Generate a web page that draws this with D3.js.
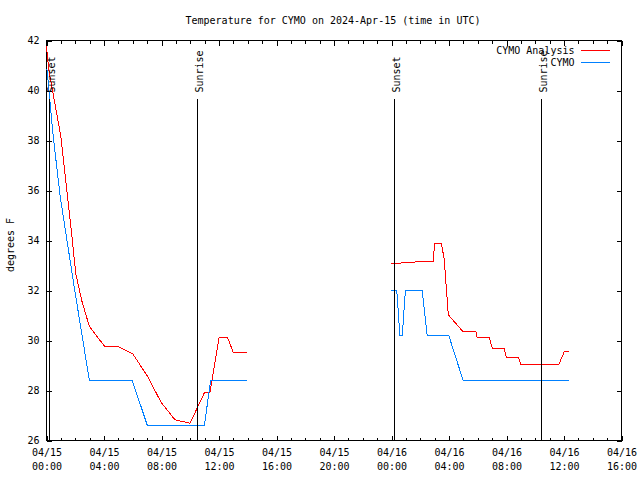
<!DOCTYPE html>
<html>
<head>
<meta charset="utf-8">
<script src="https://cdn.jsdelivr.net/npm/d3@7/dist/d3.min.js"></script>
<style>
  html, body { margin: 0; padding: 0; background: #fff; }
  svg { display: block; }
  text { font-family: "DejaVu Sans Mono", "Liberation Mono", monospace; font-size: 10px; fill: #000; }
</style>
</head>
<body>
<svg id="chart" width="640" height="480"></svg>
<script>
// ---------- DATA ----------
const titleText = "Temperature for CYMO on 2024-Apr-15 (time in UTC)";
const yLabelText = "degrees F";
const seriesNames = ["CYMO Analysis", "CYMO"];
const seriesColors = ["#ff0000", "#0080ff"];

const xDomain = ["2024-04-15T00:00Z", "2024-04-16T16:00Z"];
const yTicks = [26, 28, 30, 32, 34, 36, 38, 40, 42];

// CYMO Analysis (red), two segments
const analysisTimes1 = ["2024-04-15T00:00Z","2024-04-15T00:10Z","2024-04-15T01:00Z","2024-04-15T01:25Z","2024-04-15T01:48Z","2024-04-15T02:02Z","2024-04-15T02:27Z","2024-04-15T02:59Z","2024-04-15T04:03Z","2024-04-15T05:00Z","2024-04-15T06:00Z","2024-04-15T07:04Z","2024-04-15T07:58Z","2024-04-15T08:56Z","2024-04-15T09:59Z","2024-04-15T10:59Z","2024-04-15T11:22Z","2024-04-15T12:00Z","2024-04-15T12:36Z","2024-04-15T13:00Z","2024-04-15T13:57Z"];
const analysisTemps1 = [41.76, 40.8, 38.16, 36.0, 34.0, 32.68, 31.6, 30.56, 29.76, 29.76, 29.47, 28.53, 27.53, 26.83, 26.69, 27.91, 27.91, 30.11, 30.11, 29.51, 29.51];
const analysisTimes2 = ["2024-04-15T23:58Z","2024-04-16T00:52Z","2024-04-16T01:55Z","2024-04-16T02:55Z","2024-04-16T02:59Z","2024-04-16T03:28Z","2024-04-16T03:40Z","2024-04-16T03:57Z","2024-04-16T04:58Z","2024-04-16T05:52Z","2024-04-16T05:58Z","2024-04-16T06:48Z","2024-04-16T07:01Z","2024-04-16T07:51Z","2024-04-16T07:59Z","2024-04-16T08:51Z","2024-04-16T08:59Z","2024-04-16T11:38Z","2024-04-16T12:01Z","2024-04-16T12:20Z"];
const analysisTemps2 = [33.07, 33.11, 33.15, 33.15, 33.87, 33.87, 33.27, 31.03, 30.36, 30.36, 30.11, 30.11, 29.68, 29.68, 29.32, 29.32, 29.03, 29.03, 29.55, 29.55];

// CYMO observations (blue), two segments
const obsTimes1 = ["2024-04-15T00:02Z","2024-04-15T00:28Z","2024-04-15T00:58Z","2024-04-15T01:58Z","2024-04-15T02:59Z","2024-04-15T05:58Z","2024-04-15T07:01Z","2024-04-15T10:59Z","2024-04-15T11:25Z","2024-04-15T13:57Z"];
const obsTemps1 = [40.85, 38.16, 35.7, 32.0, 28.4, 28.4, 26.6, 26.6, 28.4, 28.4];
const obsTimes2 = ["2024-04-15T23:58Z","2024-04-16T00:22Z","2024-04-16T00:35Z","2024-04-16T00:45Z","2024-04-16T00:58Z","2024-04-16T02:08Z","2024-04-16T02:29Z","2024-04-16T03:59Z","2024-04-16T04:59Z","2024-04-16T12:20Z"];
const obsTemps2 = [32.0, 32.0, 30.2, 30.2, 32.0, 32.0, 30.2, 30.2, 28.4, 28.4];

// Sun events
const sunLabels = ["Sunset", "Sunrise", "Sunset", "Sunrise"];
const sunTimes = ["2024-04-15T00:12Z", "2024-04-15T10:29Z", "2024-04-16T00:12Z", "2024-04-16T10:25Z"];

// ---------- CHART ----------
const svg = d3.select("#chart");
const pLeft = 46.5, pRight = 621.5, pTop = 40.5, pBottom = 440.5;

const x = d3.scaleUtc().domain(xDomain.map(d => new Date(d))).range([pLeft, pRight]);
const y = d3.scaleLinear().domain([26, 42]).range([pBottom, pTop]);

const endPlus = new Date(new Date(xDomain[1]).getTime() + 1);
const majorX = d3.utcHour.every(4).range(new Date(xDomain[0]), endPlus);
const minorX = d3.utcHour.every(1).range(new Date(xDomain[0]), endPlus);

const fmtDate = d3.utcFormat("%m/%d");
const fmtTime = d3.utcFormat("%H:%M");

// bottom axis (major with labels)
const gxB = svg.append("g").attr("transform", `translate(0,${pBottom})`)
  .call(d3.axisBottom(x).tickValues(majorX).tickSize(-5).tickSizeOuter(0).tickFormat(""));
gxB.selectAll(".tick text").each(function(d) {
  const t = d3.select(this).text(null).attr("y", 8);
  t.append("tspan").attr("x", 0).attr("dy", "0.71em").text(fmtDate(d));
  t.append("tspan").attr("x", 0).attr("dy", "1.4em").text(fmtTime(d));
});
// bottom minor
svg.append("g").attr("transform", `translate(0,${pBottom})`)
  .call(d3.axisBottom(x).tickValues(minorX).tickSize(-3).tickSizeOuter(0).tickFormat(""));
// top major & minor
svg.append("g").attr("transform", `translate(0,${pTop})`)
  .call(d3.axisTop(x).tickValues(majorX).tickSize(-5).tickSizeOuter(0).tickFormat(""));
svg.append("g").attr("transform", `translate(0,${pTop})`)
  .call(d3.axisTop(x).tickValues(minorX).tickSize(-3).tickSizeOuter(0).tickFormat(""));
// left & right
svg.append("g").attr("transform", `translate(${pLeft},0)`)
  .call(d3.axisLeft(y).tickValues(yTicks).tickSize(-5).tickSizeOuter(0).tickPadding(7).tickFormat(d3.format("d")));
svg.append("g").attr("transform", `translate(${pRight},0)`)
  .call(d3.axisRight(y).tickValues(yTicks).tickSize(-5).tickSizeOuter(0).tickFormat(""));

svg.selectAll(".domain").remove();
svg.selectAll(".tick line").attr("stroke", "#000").attr("shape-rendering", "crispEdges");
svg.selectAll("g").attr("font-family", null).attr("font-size", null);
svg.selectAll(".tick text").attr("fill", "#000");

// frame
svg.append("rect").attr("x", pLeft).attr("y", pTop).attr("width", pRight - pLeft).attr("height", pBottom - pTop)
  .attr("fill", "none").attr("stroke", "#000").attr("shape-rendering", "crispEdges");

// data lines
const line = d3.line().x(d => x(d[0])).y(d => y(d[1]));
function seg(times, temps) { return times.map((t, i) => [new Date(t), temps[i]]); }
const series = [
  { color: seriesColors[0], segs: [seg(analysisTimes1, analysisTemps1), seg(analysisTimes2, analysisTemps2)] },
  { color: seriesColors[1], segs: [seg(obsTimes1, obsTemps1), seg(obsTimes2, obsTemps2)] }
];
series.forEach(s => {
  s.segs.forEach(pts => {
    svg.append("path").datum(pts).attr("d", line)
      .attr("fill", "none").attr("stroke", s.color).attr("stroke-width", 1)
      .attr("shape-rendering", "crispEdges");
  });
});

// sun lines & labels
sunTimes.forEach((t, i) => {
  const xp = Math.round(x(new Date(t))) + 0.5;
  svg.append("line").attr("x1", xp).attr("x2", xp).attr("y1", 99).attr("y2", pBottom)
    .attr("stroke", "#000").attr("shape-rendering", "crispEdges");
  svg.append("text").attr("transform", `translate(${xp + 5},92.5) rotate(-90)`)
    .attr("text-anchor", "start").text(sunLabels[i]);
});

// title
svg.append("text").attr("x", 333).attr("y", 23.5).attr("text-anchor", "middle").text(titleText);

// y label
svg.append("text").attr("transform", "translate(14,245) rotate(-90)").attr("text-anchor", "middle").text(yLabelText);

// legend
seriesNames.forEach((name, i) => {
  const ly = 50 + i * 12;
  svg.append("text").attr("x", 574.5).attr("y", ly + 3.5).attr("text-anchor", "end").text(name);
  svg.append("line").attr("x1", 581).attr("x2", 610).attr("y1", ly + 0.5).attr("y2", ly + 0.5)
    .attr("stroke", seriesColors[i]).attr("shape-rendering", "crispEdges");
});
</script>
</body>
</html>
